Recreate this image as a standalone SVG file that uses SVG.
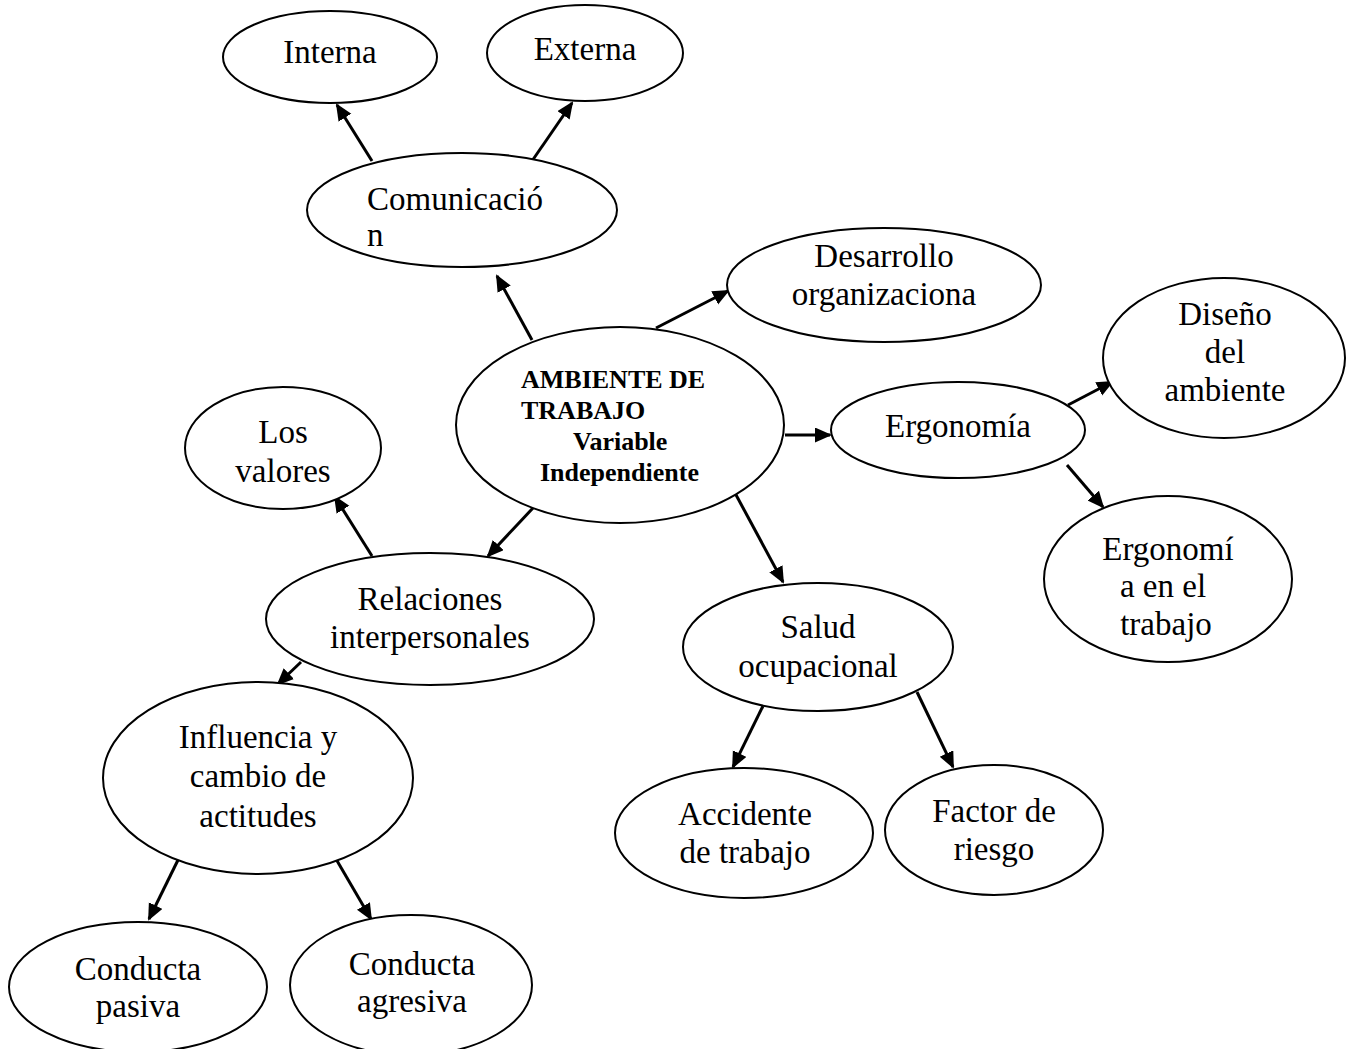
<svg xmlns="http://www.w3.org/2000/svg" width="1357" height="1049" viewBox="0 0 1357 1049">
<style>
.n ellipse{fill:#fff;stroke:#000;stroke-width:2}
.t{font-family:"Liberation Serif","Times New Roman",serif;font-size:33px;fill:#000;text-anchor:middle}
.l{text-anchor:start}
.b{font-family:"Liberation Serif","Times New Roman",serif;font-size:26px;font-weight:bold;fill:#000}
#edges line{stroke:#000;stroke-width:3;marker-end:url(#ah)}
</style>
<defs>
<marker id="ah" markerUnits="userSpaceOnUse" markerWidth="18" markerHeight="16" refX="15" refY="7.5" orient="auto">
<path d="M0,0 L17,7.5 L0,15 z" fill="#000"/>
</marker>
</defs>
<rect width="1357" height="1049" fill="#fff"/>
<g id="edges">
<line x1="372" y1="161" x2="337" y2="105"/>
<line x1="532" y1="161" x2="572" y2="103"/>
<line x1="532" y1="340" x2="497" y2="276"/>
<line x1="656" y1="328" x2="728" y2="291"/>
<line x1="785" y1="435" x2="830" y2="435"/>
<line x1="1068" y1="405" x2="1112" y2="382"/>
<line x1="1067" y1="465" x2="1103" y2="507"/>
<line x1="735" y1="493" x2="783" y2="582"/>
<line x1="533" y1="508" x2="488" y2="556"/>
<line x1="372" y1="556" x2="335" y2="497"/>
<line x1="301" y1="662" x2="278" y2="684"/>
<line x1="763" y1="706" x2="733" y2="767"/>
<line x1="917" y1="692" x2="953" y2="767"/>
<line x1="178" y1="860" x2="149" y2="919"/>
<line x1="336" y1="859" x2="371" y2="919"/>
</g>
<g id="interna" class="n"><ellipse cx="330" cy="57" rx="107" ry="46"/><text class="t" x="330" y="63">Interna</text></g>
<g id="externa" class="n"><ellipse cx="585" cy="53" rx="98" ry="48"/><text class="t" x="585" y="60">Externa</text></g>
<g id="comunicacion" class="n"><ellipse cx="462" cy="210" rx="155" ry="57"/><text class="t l" x="367" y="210">Comunicació</text><text class="t l" x="367" y="246">n</text></g>
<g id="desarrollo" class="n"><ellipse cx="884" cy="285" rx="157" ry="57"/><text class="t" x="884" y="267">Desarrollo</text><text class="t" x="884" y="305">organizaciona</text></g>
<g id="diseno" class="n"><ellipse cx="1224" cy="358" rx="121" ry="80"/><text class="t" x="1225" y="325">Diseño</text><text class="t" x="1225" y="363">del</text><text class="t" x="1225" y="401">ambiente</text></g>
<g id="ambiente" class="n"><ellipse cx="620" cy="425" rx="164" ry="98"/><text class="b" x="521" y="388">AMBIENTE DE</text><text class="b" x="521" y="419">TRABAJO</text><text class="b" x="573" y="450">Variable</text><text class="b" x="540" y="481">Independiente</text></g>
<g id="ergonomia" class="n"><ellipse cx="958" cy="430" rx="127" ry="48"/><text class="t" x="958" y="437">Ergonomía</text></g>
<g id="valores" class="n"><ellipse cx="283" cy="448" rx="98" ry="61"/><text class="t" x="283" y="443">Los</text><text class="t" x="283" y="482">valores</text></g>
<g id="ergotrabajo" class="n"><ellipse cx="1168" cy="579" rx="124" ry="83"/><text class="t" x="1168" y="560">Ergonomí</text><text class="t" x="1163" y="597">a en el</text><text class="t" x="1166" y="635">trabajo</text></g>
<g id="relaciones" class="n"><ellipse cx="430" cy="619" rx="164" ry="66"/><text class="t" x="430" y="610">Relaciones</text><text class="t" x="430" y="648">interpersonales</text></g>
<g id="salud" class="n"><ellipse cx="818" cy="647" rx="135" ry="64"/><text class="t" x="818" y="638">Salud</text><text class="t" x="818" y="677">ocupacional</text></g>
<g id="influencia" class="n"><ellipse cx="258" cy="778" rx="155" ry="96"/><text class="t" x="258" y="748">Influencia y</text><text class="t" x="258" y="787">cambio de</text><text class="t" x="258" y="827">actitudes</text></g>
<g id="accidente" class="n"><ellipse cx="744" cy="833" rx="129" ry="65"/><text class="t" x="745" y="825">Accidente</text><text class="t" x="745" y="863">de trabajo</text></g>
<g id="factor" class="n"><ellipse cx="994" cy="830" rx="109" ry="65"/><text class="t" x="994" y="822">Factor de</text><text class="t" x="994" y="860">riesgo</text></g>
<g id="pasiva" class="n"><ellipse cx="138" cy="987" rx="129" ry="65"/><text class="t" x="138" y="980">Conducta</text><text class="t" x="138" y="1017">pasiva</text></g>
<g id="agresiva" class="n"><ellipse cx="411" cy="985" rx="121" ry="70"/><text class="t" x="412" y="975">Conducta</text><text class="t" x="412" y="1012">agresiva</text></g>
</svg>
